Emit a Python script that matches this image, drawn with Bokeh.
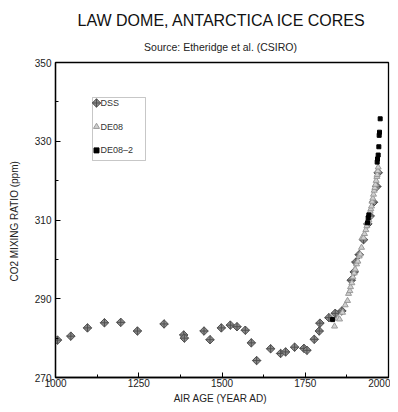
import math
from bokeh.plotting import figure
from bokeh.models import Range1d, FixedTicker, Title, Label, BoxAnnotation
from bokeh.embed import file_html
from bokeh.resources import INLINE

# ---- data ----
dss_year = [1006, 1046, 1096, 1147, 1196, 1246, 1326, 1385, 1387, 1446, 1464, 1498, 1525,
            1545, 1570, 1588, 1604, 1646, 1676, 1691, 1718, 1746, 1755, 1777, 1792, 1794,
            1821, 1840, 1860, 1888, 1897, 1902, 1912, 1925, 1938, 1945, 1955, 1965, 1969]
dss_co2 = [279.5, 280.5, 282.6, 283.9, 284.0, 281.8, 283.6, 280.8, 280.0, 281.8, 279.6, 282.6, 283.3,
           282.9, 282.0, 278.8, 274.3, 277.3, 276.1, 276.5, 277.7, 277.4, 276.9, 279.7, 281.8, 283.8,
           285.2, 286.3, 286.9, 294.7, 296.8, 299.3, 301.2, 305.0, 309.0, 311.0, 314.5, 318.5, 322.0]

de08_year = [1838, 1848, 1853, 1862, 1870, 1877, 1880, 1884, 1886, 1890, 1893, 1897, 1900, 1904,
             1908, 1912, 1915, 1919, 1921, 1925, 1928, 1932, 1935, 1938, 1941, 1943, 1945, 1947,
             1949, 1951, 1953, 1955, 1957, 1959, 1961, 1963, 1965, 1966, 1968, 1969]
de08_co2 = [283.0, 285.0, 284.8, 286.5, 288.4, 289.5, 291.3, 292.0, 293.0, 294.0, 295.5, 296.5, 297.5, 298.8,
            299.5, 300.8, 301.3, 303.0, 305.5, 305.5, 306.5, 307.5, 308.5, 309.5, 310.0, 311.0, 312.2, 312.8,
            313.5, 314.7, 315.5, 316.5, 317.5, 318.2, 319.0, 320.0, 321.0, 321.5, 322.5, 323.4]

de082_year = [1832, 1937, 1939, 1941, 1966, 1967, 1969, 1971, 1972, 1973, 1975]
de082_co2 = [284.7, 309.3, 310.5, 311.3, 324.7, 325.5, 326.5, 328.6, 331.5, 332.3, 335.7]

x_ticks = [1000, 1250, 1500, 1750, 2000]
x_minor = [1125, 1375, 1625, 1875]
y_ticks = [270, 290, 310, 330, 350]
y_minor = [280, 300, 320, 340]

FONT = "Liberation Sans"
BL, BR, BT, BB = 55, 2, 62, 25
W, H = 390, 406
FW, FH = W - BL - BR, H - BT - BB

p = figure(width=W, height=H, output_backend="svg", toolbar_location=None,
           x_range=Range1d(1000, 2000), y_range=Range1d(270, 350),
           min_border_left=BL, min_border_right=BR, min_border_top=BT, min_border_bottom=BB)
p.background_fill_color = "white"
p.border_fill_color = "white"
p.outline_line_color = "black"
p.outline_line_width = 1.3
p.grid.visible = False

sub = Title(text="Source:  Etheridge et al. (CSIRO)", align="center", text_font=FONT,
            text_font_size="10.5px", text_font_style="normal", text_color="#222222", standoff=20)
main = Title(text="LAW DOME, ANTARCTICA ICE CORES", align="center", text_font=FONT,
             text_font_size="16px", text_font_style="normal", text_color="#111111", standoff=0)
p.add_layout(sub, "above")
p.add_layout(main, "above")

for ax in (p.xaxis[0], p.yaxis[0]):
    ax.major_tick_in = 5
    ax.major_tick_out = 0
    ax.minor_tick_in = 3
    ax.minor_tick_out = 0
    ax.axis_line_color = "black"
    ax.axis_line_width = 1.3
    ax.major_label_text_font = FONT
    ax.major_label_text_font_size = "10px"
    ax.major_label_text_color = "#222222"
    ax.axis_label_text_font = FONT
    ax.axis_label_text_font_size = "10px"
    ax.axis_label_text_font_style = "normal"
    ax.axis_label_text_color = "#222222"

p.xaxis[0].ticker = FixedTicker(ticks=x_ticks, minor_ticks=x_minor)
p.yaxis[0].ticker = FixedTicker(ticks=y_ticks, minor_ticks=y_minor)
p.xaxis[0].axis_label = "AIR AGE  (YEAR AD)"
p.yaxis[0].axis_label = "CO2 MIXING RATIO  (ppm)"
p.xaxis[0].major_label_standoff = 1
p.xaxis[0].axis_label_standoff = 3
p.yaxis[0].major_label_standoff = 4
p.yaxis[0].axis_label_standoff = 12

# ---- markers ----
p.scatter(dss_year, dss_co2, marker="square_x", size=6, angle=math.pi / 4,
          fill_color="#8a8a8a", line_color="#505050", line_width=1)
p.scatter(de08_year, de08_co2, marker="triangle", size=6,
          fill_color="#d0d0d0", line_color="#9a9a9a", line_width=1)
p.scatter(de082_year, de082_co2, marker="square", size=4,
          fill_color="black", line_color="black")

# ---- legend box ----
leg = BoxAnnotation(left=92, right=145, top=97, bottom=160, left_units="canvas", right_units="canvas",
                    top_units="canvas", bottom_units="canvas", level="underlay",
                    fill_color="white", fill_alpha=1, line_color="#444444", line_width=1)
p.add_layout(leg)

leg_names = ["DSS", "DE08", "DE08\u20132"]
leg_y = [103, 127, 151]
leg_markers = ["square_x", "triangle", "square"]
leg_angle = [math.pi / 4, 0, 0]
leg_fill = ["#8a8a8a", "#d0d0d0", "black"]
leg_line = ["#505050", "#9a9a9a", "black"]
leg_size = [6, 6, 5]
for name, yy, mk, ang, fc, lc, sz in zip(leg_names, leg_y, leg_markers, leg_angle, leg_fill, leg_line, leg_size):
    ydata = 350 - (yy - BT) * 80.0 / FH
    xdata = 1000 + (96 - BL) * 1000.0 / FW
    p.scatter([xdata], [ydata], marker=mk, size=sz, angle=ang, fill_color=fc, line_color=lc)
    p.add_layout(Label(x=xdata + 12, y=ydata, text=name, text_font=FONT, text_font_size="9px",
                       text_color="#333333", text_baseline="middle", text_align="left"))

open("out.html", "w").write(file_html(p, INLINE))
